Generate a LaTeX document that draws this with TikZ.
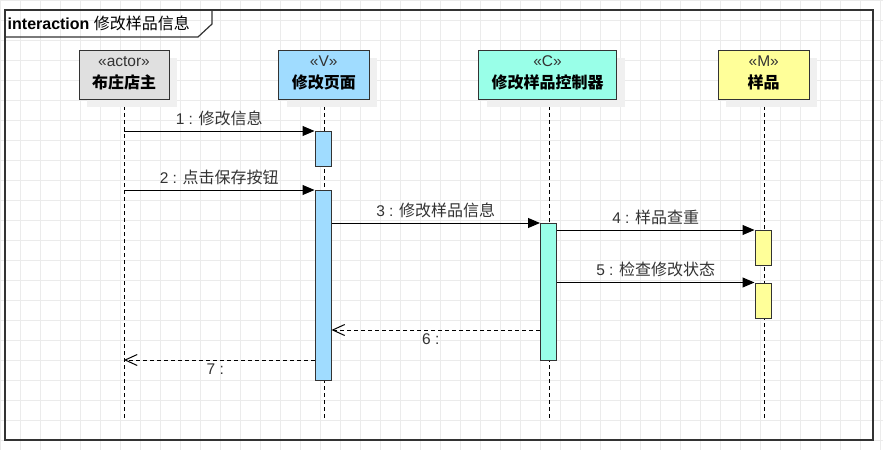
\documentclass[tikz,border=0pt]{standalone}
\usepackage{fontspec}
\setmainfont{Liberation Sans}
\newfontfamily\cjk{Noto Sans CJK SC}
\usetikzlibrary{arrows.meta,shadows}

\definecolor{gridc}{HTML}{EBEBEB}
\definecolor{linec}{HTML}{333333}
\definecolor{textc}{HTML}{333333}
\definecolor{shadowc}{HTML}{F0F0F0}
\definecolor{actorfill}{HTML}{E0E0E0}
\definecolor{vfill}{HTML}{A0DCFF}
\definecolor{cfill}{HTML}{99FFE8}
\definecolor{mfill}{HTML}{FFFF99}

\tikzset{
  x=1pt, y=-1pt,
  gridline/.style={draw=gridc, line width=0.9pt},
  umlframe/.style={draw=linec, line width=1.2pt},
  headbox/.style={draw=linec, line width=1pt, minimum height=49pt, inner sep=0pt,
    drop shadow={fill=shadowc, opacity=1, shadow xshift=8pt, shadow yshift=-8pt}},
  stereo/.style={text=textc, font=\fontsize{15.5}{17}\selectfont, inner sep=0pt},
  hname/.style={text=black, font=\fontsize{16}{18}\selectfont\bfseries\cjk, inner sep=0pt},
  lifeline/.style={draw=black, line width=1pt, dash pattern=on 4pt off 3pt},
  actbox/.style={draw=linec, line width=1pt, minimum width=16pt, inner sep=0pt, anchor=north},
  call/.style={draw=black, line width=1pt, -{Triangle[length=12pt,width=10pt]}},
  reply/.style={draw=black, line width=1pt, dash pattern=on 4pt off 3pt,
    -{Straight Barb[length=12pt,width=11pt,line width=1pt]}},
  msglabel/.style={text=textc, font=\fontsize{15.5}{17}\selectfont, inner sep=3pt},
  uplabel/.style={msglabel, midway, above, yshift=2pt},
}
\newcommand{\zh}[1]{{\cjk\fontsize{16}{17}\selectfont #1}}

\begin{document}
\begin{tikzpicture}
\useasboundingbox (0,0) rectangle (883,450);
\fill[white] (0,0) rectangle (883,450);

% background grid
\foreach \gx in {0,20,...,880} \draw[gridline] (\gx,0) -- (\gx,450);
\foreach \gy in {0,20,...,440} \draw[gridline] (0,\gy) -- (883,\gy);

% interaction frame with its name tab
\draw[umlframe] (5,10) rectangle (873,440);
\draw[umlframe] (5,37) -- (198,37) -- (212,24) -- (212,10);
\node[anchor=west, inner sep=0pt, font=\fontsize{16}{17}\selectfont] (title) at (7.5,23.5)
  {\textbf{interaction} \zh{修改样品信息}};

% lifeline ends
\coordinate (aTop) at (124,99);    \coordinate (aBot) at (124,418);
\coordinate (vTop) at (324,99);    \coordinate (vBot) at (324,418);
\coordinate (cTop) at (549.5,99);  \coordinate (cBot) at (549.5,418);
\coordinate (mTop) at (764,99);    \coordinate (mBot) at (764,418);

\draw[lifeline] (aTop) -- (aBot);
\draw[lifeline] (vTop) -- (vBot);
\draw[lifeline] (cTop) -- (cBot);
\draw[lifeline] (mTop) -- (mBot);

% lifeline heads
\node[headbox, fill=actorfill, minimum width=90pt] (actor) at (124,74.5) {};
\node[stereo] at (124,61.5) {«actor»};
\node[hname] at (124,82) {布庄店主};

\node[headbox, fill=vfill, minimum width=90.5pt] (view) at (323.75,74.5) {};
\node[stereo] at (323.75,61.5) {«V»};
\node[hname] at (323.75,82) {修改页面};

\node[headbox, fill=cfill, minimum width=138pt] (ctrl) at (547.5,74.5) {};
\node[stereo] at (547.5,61.5) {«C»};
\node[hname] at (547.5,82) {修改样品控制器};

\node[headbox, fill=mfill, minimum width=90.7pt] (model) at (763.7,74.5) {};
\node[stereo] at (763.7,61.5) {«M»};
\node[hname] at (763.7,82) {样品};

% activation bars
\node[actbox, fill=vfill, minimum height=35pt]  (va1) at (323,131) {};
\node[actbox, fill=vfill, minimum height=190pt] (va2) at (323,190) {};
\node[actbox, fill=cfill, minimum height=137pt] (ca)  at (548.5,223) {};
\node[actbox, fill=mfill, minimum height=35pt]  (ma1) at (763,230) {};
\node[actbox, fill=mfill, minimum height=35pt]  (ma2) at (763,282.5) {};

% reply heights
\coordinate (y6) at (0,330);
\coordinate (y7) at (0,360);

% messages
\draw[call] (aTop |- va1.north west) -- (va1.north west)
  node[uplabel] {1 : \zh{修改信息}};
\draw[call] (aTop |- va2.north west) -- (va2.north west)
  node[uplabel] {2 : \zh{点击保存按钮}};
\draw[call] (va2.east |- ca.north west) -- (ca.north west)
  node[uplabel] {3 : \zh{修改样品信息}};
\draw[call] (ca.east |- ma1.north west) -- (ma1.north west)
  node[uplabel] {4 : \zh{样品查重}};
\draw[call] (ca.east |- ma2.north west) -- (ma2.north west)
  node[uplabel] {5 : \zh{检查修改状态}};
\draw[reply] (ca.west |- y6) -- (va2.east |- y6)
  node[msglabel, midway, below, xshift=-5pt] {6 :};
\draw[reply] (va2.west |- y7) -- (aTop |- y7)
  node[msglabel, midway, below, xshift=-4pt] {7 :};
\end{tikzpicture}
\end{document}
